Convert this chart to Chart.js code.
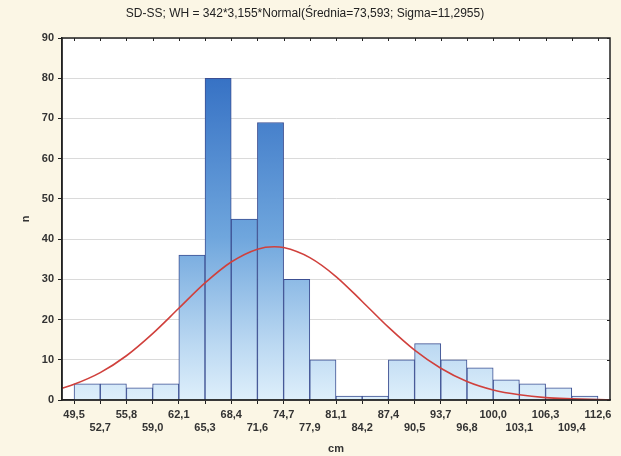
<!DOCTYPE html>
<html>
<head>
<meta charset="utf-8">
<script src="https://cdn.jsdelivr.net/npm/chart.js@4.4.1/dist/chart.umd.min.js"></script>
<style>
  html, body { margin: 0; padding: 0; background: #fbf6e5; }
  #wrap { width: 621px; height: 456px; }
</style>
</head>
<body>
<div id="wrap"><canvas id="histChart" width="621" height="456"></canvas></div>
<script>
// bin edges (cm) and their printed labels
const binEdges = [49.5, 52.655, 55.81, 58.965, 62.12, 65.275, 68.43, 71.585, 74.74, 77.895,
                  81.05, 84.205, 87.36, 90.515, 93.67, 96.825, 99.98, 103.135, 106.29, 109.445, 112.6];
const edgeLabels = ['49,5', '52,7', '55,8', '59,0', '62,1', '65,3', '68,4', '71,6', '74,7', '77,9',
                    '81,1', '84,2', '87,4', '90,5', '93,7', '96,8', '100,0', '103,1', '106,3', '109,4', '112,6'];
// counts per bin
const counts = [4, 4, 3, 4, 36, 80, 45, 69, 30, 10, 1, 1, 10, 14, 10, 8, 5, 4, 3, 1];
// fitted normal curve, sampled
const curveX = [48.05, 49.5, 52.655, 55.81, 58.965, 62.12, 65.275, 68.43, 71.585, 73.6, 74.74, 77.895,
                81.05, 84.205, 87.36, 90.515, 93.67, 96.825, 99.98, 103.135, 106.29, 109.445, 112.6, 114.05];
const curveY = [2.95, 3.9, 6.8, 11.0, 16.5, 22.8, 29.1, 34.3, 37.5, 38.1, 37.9, 35.4,
                30.7, 24.5, 18.1, 12.4, 7.9, 4.6, 2.5, 1.3, 0.6, 0.3, 0.1, 0.06];
const yTicks = [0, 10, 20, 30, 40, 50, 60, 70, 80, 90];

const barPoints = counts.map((c, i) => ({ x: (binEdges[i] + binEdges[i + 1]) / 2, y: c }));
const curvePoints = curveX.map((x, i) => ({ x: x, y: curveY[i] }));

const FONT = "'Liberation Sans', Arial, sans-serif";

function barFill(context) {
  const { ctx, chartArea } = context.chart;
  if (!chartArea) return '#8fbce8';
  const g = ctx.createLinearGradient(0, chartArea.top, 0, chartArea.bottom);
  g.addColorStop(0, '#2c60b6');
  g.addColorStop(0.12, '#3873c5');
  g.addColorStop(0.55, '#6fa6dd');
  g.addColorStop(0.85, '#bcd9f2');
  g.addColorStop(1, '#deeffb');
  return g;
}

// white plot area, full frame and inner tick marks on top/right
const frame = {
  id: 'frame',
  beforeDraw(chart) {
    const { ctx, chartArea: a } = chart;
    ctx.save();
    ctx.fillStyle = '#ffffff';
    ctx.fillRect(a.left, a.top, a.right - a.left, a.bottom - a.top);
    ctx.restore();
  },
  afterDraw(chart) {
    const { ctx, chartArea: a, scales } = chart;
    ctx.save();
    ctx.strokeStyle = '#222';
    ctx.lineWidth = 1.5;
    ctx.strokeRect(a.left, a.top, a.right - a.left, a.bottom - a.top);
    ctx.lineWidth = 1;
    ctx.beginPath();
    binEdges.forEach(v => {
      const x = Math.round(scales.x.getPixelForValue(v)) + 0.5;
      ctx.moveTo(x, a.top);
      ctx.lineTo(x, a.top + 3);
    });
    yTicks.forEach(v => {
      const y = Math.round(scales.y.getPixelForValue(v)) + 0.5;
      ctx.moveTo(a.right, y);
      ctx.lineTo(a.right - 3, y);
    });
    ctx.stroke();
    ctx.restore();
  }
};

new Chart(document.getElementById('histChart'), {
  type: 'bar',
  data: {
    datasets: [{
      type: 'line',
      data: curvePoints,
      borderColor: '#d0403c',
      borderWidth: 1.6,
      pointRadius: 0,
      cubicInterpolationMode: 'monotone',
      fill: false,
      order: 0
    }, {
      type: 'bar',
      data: barPoints,
      backgroundColor: barFill,
      borderColor: '#3c4f92',
      borderWidth: 1,
      barPercentage: 1,
      categoryPercentage: 1,
      order: 1
    }]
  },
  options: {
    responsive: false,
    animation: false,
    layout: { padding: { left: 0, right: 11, top: 0, bottom: 0 } },
    plugins: {
      legend: { display: false },
      tooltip: { enabled: false },
      title: {
        display: true,
        text: 'SD-SS; WH = 342*3,155*Normal(Średnia=73,593; Sigma=11,2955)',
        color: '#222',
        font: { family: FONT, size: 12, weight: 'normal' },
        padding: { top: 6, bottom: 17.6 }
      }
    },
    scales: {
      x: {
        type: 'linear',
        min: 48.05,
        max: 114.05,
        offset: false,
        afterFit(scale) { scale.height = 56; },
        afterBuildTicks(scale) { scale.ticks = binEdges.map(v => ({ value: v })); },
        border: { display: true, color: '#222', width: 1.5 },
        grid: { offset: false, drawOnChartArea: false, tickLength: 4, color: '#222' },
        ticks: {
          autoSkip: false,
          maxRotation: 0,
          padding: 4.4,
          color: '#333',
          font: { family: FONT, size: 11, weight: 'bold', lineHeight: 1.2 },
          callback: (value, index) => index % 2 ? ['', edgeLabels[index]] : edgeLabels[index]
        },
        title: {
          display: true,
          text: 'cm',
          color: '#333',
          font: { family: FONT, size: 11, weight: 'bold' },
          padding: { top: 0, bottom: 0 }
        }
      },
      y: {
        min: 0,
        max: 90,
        afterFit(scale) { scale.width = 62; },
        afterBuildTicks(scale) { scale.ticks = yTicks.map(v => ({ value: v })); },
        border: { display: true, color: '#222', width: 1.5 },
        grid: { color: '#dadada', tickLength: 4, tickColor: '#222' },
        ticks: {
          padding: 4,
          color: '#333',
          font: { family: FONT, size: 11, weight: 'bold' }
        },
        title: {
          display: true,
          text: 'n',
          color: '#333',
          font: { family: FONT, size: 11, weight: 'bold' },
          padding: { top: 19, bottom: 0 }
        }
      }
    }
  },
  plugins: [frame]
});
</script>
</body>
</html>
